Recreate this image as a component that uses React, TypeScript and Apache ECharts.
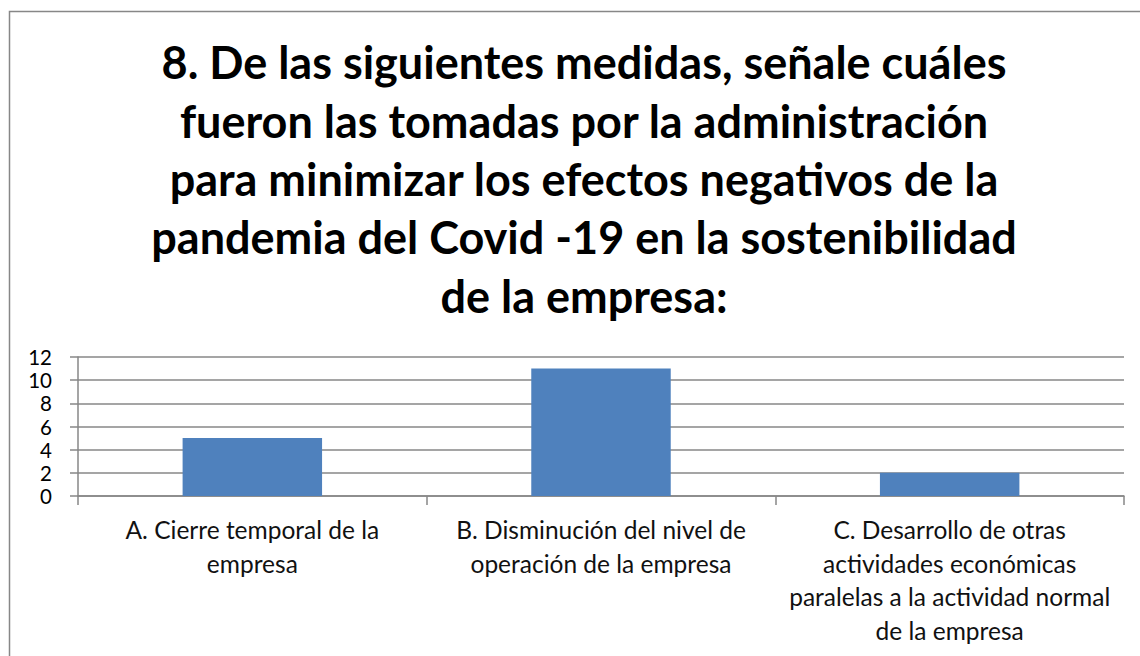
import React, { useEffect, useRef } from "react";
import * as echarts from "echarts";

const titleLines = [
  "8. De las siguientes medidas, señale cuáles",
  "fueron las tomadas por la administración",
  "para minimizar los efectos negativos de la",
  "pandemia del Covid -19 en la sostenibilidad",
  "de la empresa:",
];
const categories = [
  "A. Cierre temporal de la\nempresa",
  "B. Disminución del nivel de\noperación de la empresa",
  "C. Desarrollo de otras\nactividades económicas\nparalelas a la actividad normal\nde la empresa",
];
const values = [5, 11, 2];

export default function App() {
  const ref = useRef<HTMLDivElement>(null);
  useEffect(() => {
    if (!ref.current) return;
    const chart = echarts.init(ref.current, null, { renderer: "svg" });
    const gray = "#878787";
    chart.setOption({
      animation: false,
      backgroundColor: "#ffffff",
      title: {
        text: titleLines.join("\n"),
        left: 579,
        top: 28,
        textAlign: "center",
        textStyle: {
          fontFamily: "Lato",
          fontWeight: "bold",
          fontSize: 45,
          lineHeight: 58.4,
          color: "#000000",
        },
      },
      graphic: [
        {
          type: "rect",
          shape: { x: 9.5, y: 11.5, width: 1200, height: 700 },
          style: { fill: "none", stroke: gray, lineWidth: 1.5 },
          silent: true,
        },
      ],
      grid: { left: 78, right: 16, top: 357, bottom: 160, containLabel: false },
      xAxis: {
        type: "category",
        data: categories,
        axisLine: { show: true, lineStyle: { color: gray, width: 1.5 } },
        axisTick: { show: true, length: 9, lineStyle: { color: gray, width: 1.5 } },
        axisLabel: {
          interval: 0,
          margin: 17,
          fontFamily: "Lato",
          fontSize: 24.5,
          lineHeight: 33.5,
          color: "#111111",
          align: "center",
        },
        splitLine: { show: false },
      },
      yAxis: {
        type: "value",
        min: 0,
        max: 12,
        interval: 2,
        axisLine: { show: true, lineStyle: { color: gray, width: 1.5 } },
        axisTick: { show: true, length: 8, lineStyle: { color: gray, width: 1.5 } },
        axisLabel: {
          margin: 26,
          fontFamily: "Lato",
          fontSize: 20.5,
          lineHeight: 19,
          color: "#000000",
        },
        splitLine: { show: true, lineStyle: { color: gray, width: 1.5 } },
      },
      series: [
        {
          type: "bar",
          data: values,
          barCategoryGap: "60%",
          itemStyle: { color: "#4f81bd" },
        },
      ],
    });
    return () => chart.dispose();
  }, []);
  return (
    <div
      ref={ref}
      style={{ position: "fixed", left: 0, top: 0, width: 1140, height: 656 }}
    />
  );
}
